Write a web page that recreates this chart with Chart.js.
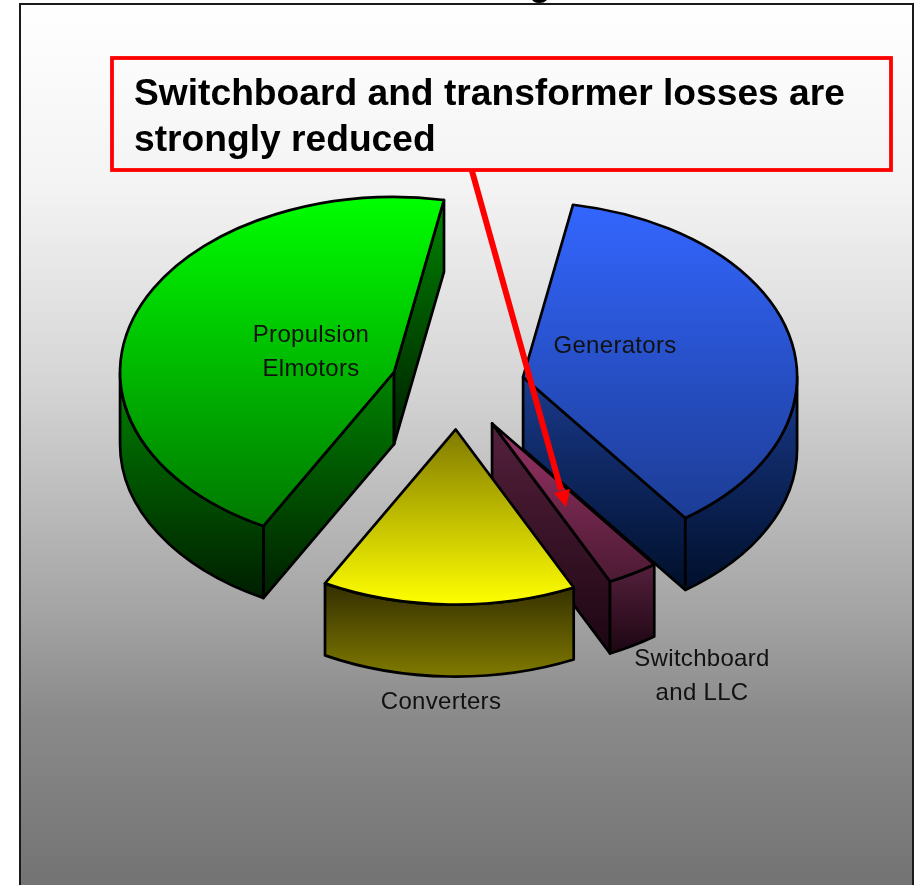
<!DOCTYPE html>
<html>
<head>
<meta charset="utf-8">
<style>
  html, body { margin: 0; padding: 0; background: #fff; }
  #wrap { width: 915px; height: 885px; overflow: hidden; }
</style>
<script src="https://cdn.jsdelivr.net/npm/chart.js@4"></script>
</head>
<body>
<div id="wrap"><canvas id="lossChart" width="915" height="885"></canvas></div>
<script>
// shares, clockwise from the first slice
const categories = ["Generators", "Switchboard and LLC", "Converters", "Propulsion Elmotors"];
const lossShare = [37, 3, 15, 45];

// label text is split on two lines like the original
const labelLines = [["Generators"], ["Switchboard", "and LLC"], ["Converters"], ["Propulsion", "Elmotors"]];
const labelX = [615, 702, 441, 311];
const labelY = [346, 659, 702, 335];

const noteLines = ["Switchboard and transformer losses are", "strongly reduced"];

// top face gradient (high on screen -> low on screen), then side gradient
const topColors = [["#3366ff", "#1c3c94"], ["#993366", "#4c1a33"], ["#807a00", "#ffff00"], ["#00ff00", "#007800"]];
const sideColors = [["#1a3a8c", "#000f2a"], ["#55203c", "#1c0612"], ["#332e00", "#807a00"], ["#008400", "#001e00"]];

const SQUASH = 0.639;   // pie tilt
const DEPTH = 72;       // slice thickness
const EXPLODE = 0.2456; // all slices pulled out by the same part of the radius
const drawOrder = [0, 3, 1, 2];

function vGrad(ctx, y0, y1, pair) {
  const g = ctx.createLinearGradient(0, y0, 0, y1);
  g.addColorStop(0, pair[0]);
  g.addColorStop(1, pair[1]);
  return g;
}

function paint(ctx, fill) {
  ctx.fillStyle = fill;
  ctx.fill();
  ctx.stroke();
}

function drawSlice(ctx, arc, i) {
  const R = arc.outerRadius;
  const ry = R * SQUASH;
  const a = arc.startAngle, b = arc.endAngle;
  const mid = (a + b) / 2;
  const cx = arc.x + Math.cos(mid) * R * EXPLODE;
  const cy = arc.y + Math.sin(mid) * ry * EXPLODE;
  const rim = (t) => [cx + Math.cos(t) * R, cy + Math.sin(t) * ry];

  ctx.lineWidth = 2.7;
  ctx.lineJoin = "round";
  ctx.strokeStyle = "#000";

  // cut faces, only the ones turned to the viewer
  [[a, Math.cos(a) < 0], [b, Math.cos(b) > 0]].forEach(([t, visible]) => {
    if (!visible) return;
    const p = rim(t);
    ctx.beginPath();
    ctx.moveTo(cx, cy);
    ctx.lineTo(p[0], p[1]);
    ctx.lineTo(p[0], p[1] + DEPTH);
    ctx.lineTo(cx, cy + DEPTH);
    ctx.closePath();
    paint(ctx, vGrad(ctx, Math.min(cy, p[1]), Math.max(cy, p[1]) + DEPTH, sideColors[i]));
  });

  // round wall, lower half of the ellipse only
  const turn = Math.PI * 2;
  for (let k = -1; k <= 1; k++) {
    const s = Math.max(a, k * turn), e = Math.min(b, k * turn + Math.PI);
    if (e <= s) continue;
    const p0 = rim(s), p1 = rim(e);
    ctx.beginPath();
    ctx.ellipse(cx, cy, R, ry, 0, s, e);
    ctx.lineTo(p1[0], p1[1] + DEPTH);
    ctx.ellipse(cx, cy + DEPTH, R, ry, 0, e, s, true);
    ctx.closePath();
    let low = Math.max(p0[1], p1[1]);
    if (s < k * turn + Math.PI / 2 && e > k * turn + Math.PI / 2) low = cy + ry;
    paint(ctx, vGrad(ctx, Math.min(p0[1], p1[1]), low + DEPTH, sideColors[i]));
  }

  // top face
  let top = Infinity, bottom = -Infinity;
  [a, b].forEach((t) => { const p = rim(t); top = Math.min(top, p[1]); bottom = Math.max(bottom, p[1]); });
  top = Math.min(top, cy);
  bottom = Math.max(bottom, cy);
  for (let k = -1; k <= 1; k++) {
    if (a < k * turn + Math.PI / 2 && b > k * turn + Math.PI / 2) bottom = cy + ry;
    if (a < k * turn - Math.PI / 2 && b > k * turn - Math.PI / 2) top = cy - ry;
  }
  ctx.beginPath();
  ctx.moveTo(cx, cy);
  ctx.ellipse(cx, cy, R, ry, 0, a, b);
  ctx.closePath();
  paint(ctx, vGrad(ctx, top, bottom, topColors[i]));
}

const panelPlugin = {
  id: "panel",
  beforeDraw(chart) {
    const ctx = chart.ctx;
    const g = ctx.createLinearGradient(0, 4, 0, 885);
    g.addColorStop(0, "#ffffff");
    g.addColorStop(0.21, "#f3f3f3");
    g.addColorStop(0.43, "#d5d5d5");
    g.addColorStop(0.69, "#a4a4a4");
    g.addColorStop(0.81, "#8a8a8a");
    g.addColorStop(1, "#737373");
    ctx.save();
    ctx.fillStyle = g;
    ctx.fillRect(20, 4, 893, 881);
    ctx.strokeStyle = "#1a1a1a";
    ctx.lineWidth = 2;
    ctx.strokeRect(20, 4, 893, 890);
    // only the tail of the title letter is left above the frame
    ctx.beginPath();
    ctx.rect(0, 0, 915, 4);
    ctx.clip();
    ctx.fillStyle = "#000";
    ctx.font = "bold 36px 'Liberation Sans'";
    ctx.textAlign = "center";
    ctx.fillText("g", 540, -5);
    ctx.restore();
  }
};

const pie3dPlugin = {
  id: "pie3d",
  beforeDatasetDraw(chart, args) {
    const ctx = chart.ctx;
    const arcs = chart.getDatasetMeta(args.index).data;
    ctx.save();
    drawOrder.forEach((i) => drawSlice(ctx, arcs[i], i));
    ctx.restore();
    return false; // flat arcs are replaced by the tilted ones
  },
  afterDraw(chart) {
    const ctx = chart.ctx;
    ctx.save();

    // slice labels
    ctx.fillStyle = "#111";
    ctx.font = "24px 'Liberation Sans'";
    ctx.letterSpacing = "0.3px";
    ctx.textAlign = "center";
    ctx.textBaseline = "middle";
    labelLines.forEach((lines, i) => {
      lines.forEach((t, n) => ctx.fillText(t, labelX[i], labelY[i] + n * 34));
    });
    ctx.letterSpacing = "0px";

    // note box
    ctx.strokeStyle = "#ff0000";
    ctx.lineWidth = 3.8;
    ctx.strokeRect(112, 58, 779, 112);
    ctx.fillStyle = "#000";
    ctx.font = "bold 37.2px 'Liberation Sans'";
    ctx.textAlign = "left";
    ctx.textBaseline = "alphabetic";
    noteLines.forEach((t, n) => ctx.fillText(t, 134, 105 + n * 46));

    // arrow from the box to the switchboard slice
    ctx.lineWidth = 6;
    ctx.beginPath();
    ctx.moveTo(472, 171);
    ctx.lineTo(561, 490);
    ctx.stroke();
    ctx.fillStyle = "#ff0000";
    ctx.beginPath();
    ctx.moveTo(566, 507);
    ctx.lineTo(554, 493);
    ctx.lineTo(570, 489);
    ctx.closePath();
    ctx.fill();
    ctx.restore();
  }
};

new Chart(document.getElementById("lossChart"), {
  type: "pie",
  data: {
    labels: categories,
    datasets: [{ data: lossShare, radius: 274, borderWidth: 0 }]
  },
  options: {
    responsive: false,
    animation: false,
    events: [],
    rotation: 10.5,
    layout: { padding: { bottom: 112 } },
    plugins: { legend: { display: false }, tooltip: { enabled: false } }
  },
  plugins: [panelPlugin, pie3dPlugin]
});
</script>
</body>
</html>
